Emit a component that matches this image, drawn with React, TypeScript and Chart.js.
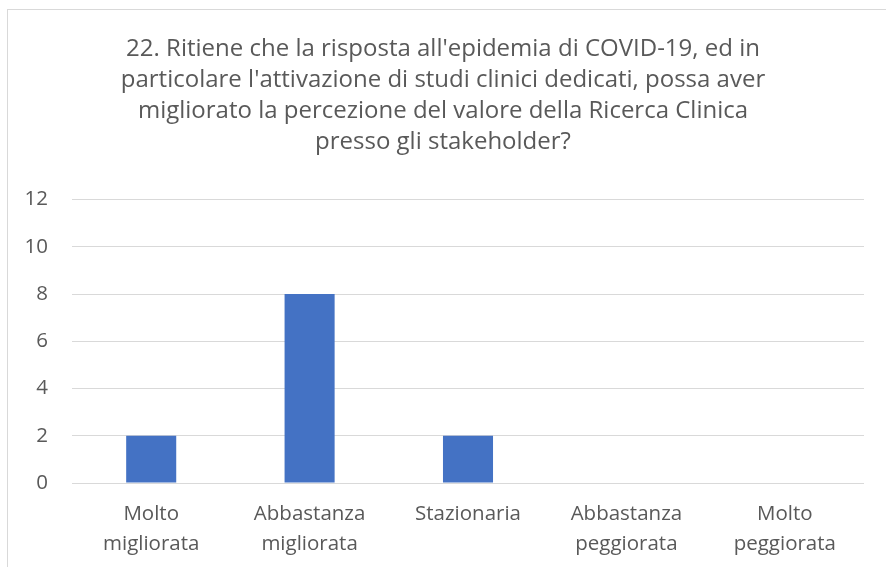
import React, { useEffect, useRef } from "react";
import { Chart, registerables } from "chart.js";

Chart.register(...registerables);

const titleLines = [
  "22. Ritiene che la risposta all'epidemia di COVID-19, ed in",
  "particolare l'attivazione di studi clinici dedicati, possa aver",
  "migliorato la percezione del valore della Ricerca Clinica",
  "presso gli stakeholder?",
];

const categories = [
  ["Molto", "migliorata"],
  ["Abbastanza", "migliorata"],
  ["Stazionaria"],
  ["Abbastanza", "peggiorata"],
  ["Molto", "peggiorata"],
];

const values = [2, 8, 2, 0, 0];

const yMin = 0;
const yMax = 12;
const yStep = 2;

const FONT = "'Open Sans', sans-serif";
const TEXT = "#595959";
const GRID = "#d9d9d9";
const BAR = "#4472c4";

export default function App() {
  const ref = useRef<HTMLCanvasElement | null>(null);

  useEffect(() => {
    if (!ref.current) return;
    const chart = new Chart(ref.current, {
      type: "bar",
      data: {
        labels: categories,
        datasets: [
          {
            data: values,
            backgroundColor: BAR,
            borderWidth: 0,
            barPercentage: 0.316,
            categoryPercentage: 1,
          },
        ],
      },
      options: {
        responsive: false,
        animation: false,
        devicePixelRatio: 1,
        layout: { padding: { top: 0, left: 0, right: 0, bottom: 0 } },
        plugins: {
          legend: { display: false },
          tooltip: { enabled: false },
          title: {
            display: true,
            text: titleLines,
            color: TEXT,
            font: { family: FONT, size: 24, weight: "normal", lineHeight: 31 / 24 },
            padding: { top: 33.5, bottom: 42 },
          },
        },
        scales: {
          x: {
            grid: { display: false, drawTicks: false },
            border: { display: false },
            ticks: {
              color: TEXT,
              font: { family: FONT, size: 20.5, lineHeight: 29.5 / 20.5 },
              padding: 16.5,
              maxRotation: 0,
              autoSkip: false,
            },
            afterFit: (s: any) => {
              s.height = 84;
            },
          },
          y: {
            min: yMin,
            max: yMax,
            grid: { color: GRID, lineWidth: 1, drawTicks: false },
            border: { display: false },
            ticks: {
              stepSize: yStep,
              color: TEXT,
              font: { family: FONT, size: 20.5 },
              padding: 24,
            },
            afterFit: (s: any) => {
              s.width = 72;
            },
          },
          yRightSpacer: {
            type: "linear",
            position: "right",
            display: true,
            grid: { display: false, drawTicks: false },
            border: { display: false },
            ticks: { display: false },
            afterFit: (s: any) => {
              s.width = 22;
            },
          },
        },
      },
    });
    return () => chart.destroy();
  }, []);

  return (
    <div
      style={{
        position: "absolute",
        left: 0,
        top: 0,
        width: 886,
        height: 567,
        overflow: "hidden",
        background: "#ffffff",
      }}
    >
      <div
        style={{
          position: "absolute",
          left: 7,
          top: 9,
          width: 920,
          height: 620,
          border: "1px solid #d9d9d9",
          boxSizing: "border-box",
        }}
      />
      <canvas
        ref={ref}
        width={886}
        height={567}
        style={{ position: "absolute", left: 0, top: 0, width: 886, height: 567 }}
      />
    </div>
  );
}
